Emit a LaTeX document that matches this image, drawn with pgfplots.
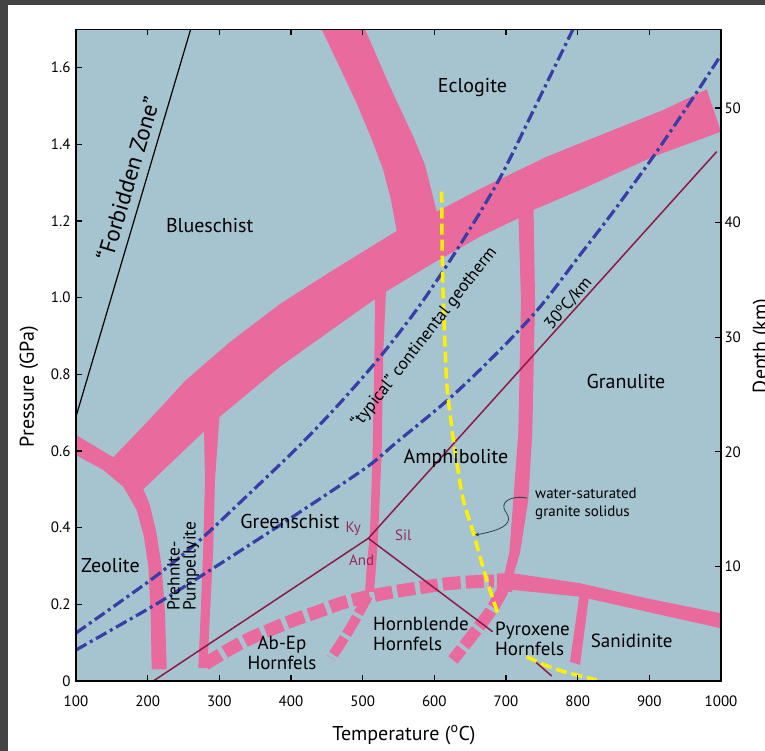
\documentclass[border=0pt]{standalone}
\usepackage{pgfplots}
\pgfplotsset{compat=1.18}
\usepackage{fontspec}
\setmainfont{PT Sans}
\definecolor{bgc}{RGB}{166,196,208}
\definecolor{pinkc}{RGB}{233,106,157}
\definecolor{bluec}{RGB}{55,62,165}
\definecolor{maroonc}{RGB}{140,25,70}
\definecolor{kyc}{RGB}{150,40,90}
\definecolor{yellowc}{RGB}{255,240,0}
\definecolor{framec}{RGB}{68,68,68}
\definecolor{arrowc}{RGB}{50,65,75}
\newcommand{\lab}{\fontsize{20}{21}\selectfont}
\newcommand{\sml}{\fontsize{15}{17}\selectfont}
\begin{document}
\begin{tikzpicture}[x=1pt,y=1pt]
\useasboundingbox (0,0) rectangle (765,751);
\fill[white] (0,0) rectangle (765,751);
\fill[framec] (0,0) rectangle (8.3,751);
\fill[framec] (0,746) rectangle (765,751);
\begin{axis}[
  at={(76pt,70pt)}, anchor=south west, scale only axis,
  width=645pt, height=651.7pt,
  xmin=100, xmax=1000, ymin=0, ymax=1.70,
  axis background/.style={fill=bgc},
  axis on top,
  axis line style={line width=1.4pt},
  tick align=inside, major tick length=6pt,
  tick style={line width=1.2pt, black},
  xtick={100,200,300,400,500,600,700,800,900,1000},
  xticklabels={100,200,300,400,500,600,700,800,900,1000},
  xtick pos=both, xticklabel pos=bottom,
  ytick={0,0.2,0.4,0.6,0.8,1.0,1.2,1.4,1.6},
  yticklabels={0,0.2,0.4,0.6,0.8,1.0,1.2,1.4,1.6},
  ytick pos=left,
  tick label style={font=\fontsize{15}{15}\selectfont},
  /pgf/number format/assume math mode=true,
  xticklabel style={yshift=-11pt},
  yticklabel style={xshift=-2pt},
]
% main band (zeolite / blueschist / greenschist / eclogite / amphibolite boundaries)
\addplot[draw=none, fill=pinkc] coordinates {
 (205.6,0.0305) (204.2,0.1766) (200.9,0.2982) (194.9,0.3764) (184.7,0.4461)
 (166.0,0.5069) (138.1,0.5504) (100,0.5895) (100,0.6417) (152.0,0.5835)
 (203.3,0.6835) (252.1,0.7826) (314.9,0.8843) (384.6,0.9834) (454.4,1.0669)
 (547.5,1.1739) (539.5,1.2547) (528.8,1.3330) (513.0,1.4113) (491.7,1.5070)
 (468.4,1.5991) (442.8,1.70) (503.3,1.70) (538.1,1.5503) (570.6,1.4199)
 (587.0,1.3460) (603.3,1.2242) (663.7,1.2834) (756.8,1.3677) (849.7,1.4373)
 (919.5,1.4895) (980.0,1.5435) (1000,1.4329) (905.5,1.3677) (803.3,1.2808)
 (738.1,1.2287) (717.2,1.2070) (663.7,1.1590) (594.0,1.0852) (528.8,1.0114)
 (454.4,0.9130) (384.6,0.8199) (296.3,0.6827) (193.9,0.5001) (202.3,0.4636)
 (211.6,0.3939) (219.6,0.2982) (224.2,0.1766) (226.6,0.0305)
};
% prehnite-pumpellyite / greenschist boundary
\addplot[draw=none, fill=pinkc] coordinates {
 (278.6,0.660) (300.9,0.707) (293.9,0.5243) (291.6,0.3503) (287.0,0.1766)
 (283.2,0.0339) (270.7,0.0339) (274.0,0.1766) (277.6,0.3503) (280.0,0.5243)
};
% greenschist / amphibolite boundary
\addplot[draw=none, fill=pinkc] coordinates {
 (517.2,1.0043) (532.6,1.0200) (528.8,0.8634) (526.6,0.6026) (521.8,0.3861)
 (518.6,0.2974) (515.8,0.2322) (503.3,0.2322) (505.6,0.2974) (510.2,0.3861)
 (514.0,0.6026) (516.5,0.8634)
};
% amphibolite / granulite boundary
\addplot[draw=none, fill=pinkc] coordinates {
 (717.2,1.2234) (738.4,1.2417) (740.5,0.9939) (736.7,0.6469) (731.1,0.4722)
 (719.5,0.3339) (711.2,0.2817) (708.4,0.2322) (690.2,0.2322) (697.2,0.2765)
 (704.6,0.3339) (710.2,0.4722) (717.2,0.6469) (720.9,0.9939)
};
% pyroxene hornfels / sanidinite boundary (solid)
\addplot[draw=none, fill=pinkc] coordinates {
 (687.4,0.2804) (710.2,0.2809) (803.3,0.2549) (896.3,0.2157) (1000,0.1766)
 (1000,0.1375) (896.3,0.1808) (803.3,0.2199) (710.2,0.2374) (687.4,0.2348)
};
% sanidinite branch
\addplot[draw=none, fill=pinkc] coordinates {
 (802.3,0.2374) (816.2,0.2374) (815.1,0.2113) (803.3,0.0417) (789.3,0.0503) (801.9,0.2165)
};
% dashed hornfels boundaries
\addplot[pinkc, line width=13pt, dash pattern=on 18pt off 5pt, smooth, mark=none] coordinates {
 (280.0,0.0443) (314.9,0.0835) (344.2,0.1122) (373.5,0.1356) (404.2,0.1591)
 (436.3,0.1800) (471.2,0.2035) (504.7,0.2191) (542.3,0.2322) (577.2,0.2426)
 (614.9,0.2530) (649.8,0.2583) (683.3,0.2609)
};
\addplot[pinkc, line width=10pt, dash pattern=on 20pt off 4pt, smooth, mark=none] coordinates {
 (507.4,0.2217) (489.3,0.1591) (472.6,0.1070) (455.8,0.0600)
};
\addplot[pinkc, line width=12pt, dash pattern=on 20pt off 4pt, smooth, mark=none] coordinates {
 (695.8,0.2374) (677.7,0.1800) (651.2,0.1148) (626.0,0.0548)
};
% aluminosilicate triple point lines
\addplot[maroonc, line width=1.5pt, mark=none] coordinates {(207.9,0) (507.9,0.3722) (994.0,1.3808)};
\addplot[maroonc, line width=1.5pt, mark=none] coordinates {(507.9,0.3722) (681.4,0.1286)};
\addplot[maroonc, line width=1.5pt, mark=none] coordinates {(738.1,0.0548) (763.8,0.0130)};
% "forbidden zone" limit
\addplot[black, line width=1.2pt, mark=none] coordinates {(100,0.6895) (260.0,1.70)};
% geotherms
\addplot[bluec, line width=3.2pt, dash pattern=on 12pt off 4pt on 3pt off 4pt, smooth, mark=none] coordinates {
 (100,0.1252) (161.4,0.2061) (217.2,0.2817) (273.0,0.3678) (342.8,0.4904)
 (412.6,0.6156) (468.4,0.7252) (524.2,0.8452) (580.0,0.9808) (635.8,1.1374)
 (691.6,1.3121) (743.3,1.5078) (793.5,1.70)
};
\addplot[bluec, line width=3.2pt, dash pattern=on 12pt off 4pt on 3pt off 4pt, smooth, mark=none] coordinates {
 (100,0.0809) (161.4,0.1461) (221.4,0.2113) (324.6,0.3339) (412.6,0.4409)
 (506.0,0.5582) (547.9,0.6235) (621.9,0.7382) (691.6,0.8634) (747.4,0.9756)
 (803.3,1.1113) (849.3,1.2234) (905.1,1.3669) (960.9,1.5208) (1000,1.6330)
};
% water-saturated granite solidus
\addplot[yellowc, line width=3.5pt, dash pattern=on 11pt off 5pt, smooth, mark=none] coordinates {
 (610.3,1.2764) (610.7,1.1504) (611.7,1.0460) (613.5,0.9417) (617.3,0.7774)
 (621.9,0.6991) (626.5,0.6287) (633.0,0.5504) (640.4,0.4722) (654.4,0.3861)
 (673.1,0.2635) (689.3,0.1722)
};
\addplot[yellowc, line width=3.5pt, dash pattern=on 11pt off 5pt, smooth, mark=none] coordinates {
 (728.9,0.0634) (754.4,0.0417) (782.3,0.0235) (826.5,0.0026)
};
% annotation arrow
\draw[arrowc, line width=0.8pt, -stealth] (axis cs:729.3,0.4774) .. controls (axis cs:705,0.485) and (axis cs:690,0.465) .. (axis cs:700,0.44) .. controls (axis cs:710,0.415) and (axis cs:700,0.395) .. (axis cs:656.7,0.3809);
% labels
\node[font=\lab] at (axis cs:653.2,1.547) {Eclogite};
\node[font=\lab] at (axis cs:286.6,1.187) {Blueschist};
\node[font=\lab] at (axis cs:148.1,0.300) {Zeolite};
\node[font=\lab] at (axis cs:398.6,0.417) {Greenschist};
\node[font=\lab] at (axis cs:630.2,0.5817) {Amphibolite};
\node[font=\lab] at (axis cs:867.4,0.780) {Granulite};
\node[font=\fontsize{17.5}{16}\selectfont, rotate=90, align=left] at (axis cs:249.5,0.300) {Prehnite-\\Pumpellyite};
\node[font=\fontsize{19}{20}\selectfont, align=center] at (axis cs:387.4,0.073) {Ab-Ep\\Hornfels};
\node[font=\fontsize{19}{20}\selectfont, align=left, anchor=west, inner sep=0pt] at (axis cs:514.4,0.1226) {Hornblende\\Hornfels};
\node[font=\fontsize{19}{20}\selectfont, align=left, anchor=west, inner sep=0pt] at (axis cs:684.6,0.1109) {Pyroxene\\Hornfels};
\node[font=\fontsize{19}{20}\selectfont] at (axis cs:875.4,0.1043) {Sanidinite};
\node[font=\fontsize{23}{23}\selectfont, rotate=73.5] at (axis cs:172,1.31) {“Forbidden Zone”};
\node[font=\fontsize{17.2}{17}\selectfont, rotate=52] at (axis cs:586,0.896) {“typical” continental geotherm};
\node[font=\fontsize{17}{17}\selectfont, rotate=50] at (axis cs:787,0.985) {30\textsuperscript{o}C/km};
\node[font=\sml, text=kyc] at (axis cs:486.9,0.398) {Ky};
\node[font=\sml, text=kyc] at (axis cs:556.7,0.381) {Sil};
\node[font=\sml, text=kyc] at (axis cs:498.6,0.3156) {And};
\node[font=\sml, anchor=west, inner sep=0pt] at (axis cs:740.5,0.4904) {water-saturated};
\node[font=\sml, anchor=west, inner sep=0pt] at (axis cs:740.5,0.4382) {granite solidus};
\end{axis}
\begin{axis}[
  at={(76pt,70pt)}, anchor=south west, scale only axis,
  width=645pt, height=651.7pt,
  xmin=100, xmax=1000, ymin=0, ymax=56.87,
  hide x axis, axis y line*=right,
  axis line style={line width=1.4pt},
  tick align=inside, major tick length=6pt,
  tick style={line width=1.2pt, black},
  ytick={10,20,30,40,50},
  tick label style={font=\fontsize{15}{15}\selectfont},
  /pgf/number format/assume math mode=true,
]
\end{axis}
\node[font=\lab] at (404,16) {Temperature (\textsuperscript{o}C)};
\node[font=\lab, rotate=90] at (29,364.3) {Pressure (GPa)};
\node[font=\lab, rotate=90] at (762,405) {Depth (km)};
\end{tikzpicture}
\end{document}
